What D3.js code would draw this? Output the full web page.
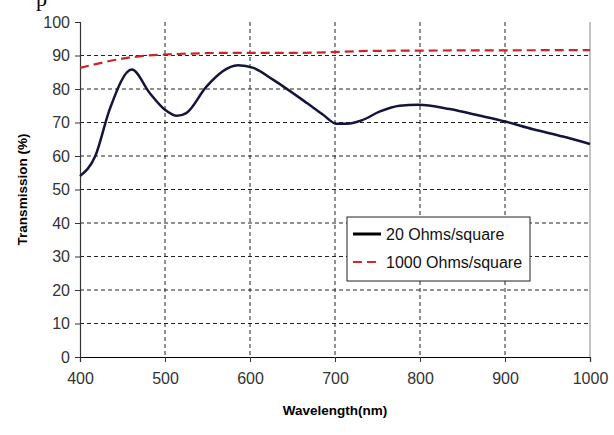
<!DOCTYPE html>
<html>
<head>
<meta charset="utf-8">
<script src="https://cdn.jsdelivr.net/npm/d3@7"></script>
<style>
  body { margin: 0; background: #fff; }
  svg { display: block; font-family: "Liberation Sans", Arial, sans-serif; }
</style>
</head>
<body>
<div id="chart"></div>
<script>
const wavelengths20 = [400, 418, 435, 461, 482, 500, 514, 525, 549, 586, 604, 627, 667, 686, 702, 714, 731, 753, 776, 798, 835, 871, 900, 933, 968, 1000];
const trans20 = [54, 60, 74, 85.8, 78.8, 73.8, 72, 72.8, 80.8, 87.1, 86.3, 82.8, 75.8, 72.3, 69.6, 69.6, 70.6, 73.3, 75, 75.3, 74, 72, 70.3, 68, 65.8, 63.6];

const wavelengths1000 = [400, 461, 500, 588, 659, 749, 1000];
const trans1000 = [86.3, 89.5, 90.3, 90.8, 90.8, 91.4, 91.6];

const xTicks = [400, 500, 600, 700, 800, 900, 1000];
const yTicks = [0, 10, 20, 30, 40, 50, 60, 70, 80, 90, 100];
const seriesNames = ["20 Ohms/square", "1000 Ohms/square"];

const W = 614, H = 435;
const plotLeft = 80, plotRight = 590, plotTop = 22, plotBottom = 357;

const svg = d3.select("#chart").append("svg")
  .attr("width", W)
  .attr("height", H);

const x = d3.scaleLinear().domain([400, 1000]).range([plotLeft, plotRight]);
const y = d3.scaleLinear().domain([0, 100]).range([plotBottom, plotTop]);

// stray glyph cut at the top of the picture
svg.append("text")
  .attr("x", 36)
  .attr("y", 6)
  .style("font-family", "'Liberation Serif', serif")
  .style("font-size", "22px")
  .text("p");

// grid
svg.append("g")
  .selectAll("line")
  .data(yTicks.filter(t => t > 0 && t < 100))
  .enter().append("line")
  .attr("x1", plotLeft).attr("x2", plotRight)
  .attr("y1", d => y(d)).attr("y2", d => y(d))
  .attr("stroke", "#222")
  .attr("stroke-dasharray", "4,3");

svg.append("g")
  .selectAll("line")
  .data(xTicks.filter(t => t > 400 && t < 1000))
  .enter().append("line")
  .attr("x1", d => x(d)).attr("x2", d => x(d))
  .attr("y1", plotTop).attr("y2", plotBottom)
  .attr("stroke", "#222")
  .attr("stroke-dasharray", "4,3");

// right border
svg.append("line")
  .attr("x1", plotRight).attr("x2", plotRight)
  .attr("y1", plotTop).attr("y2", plotBottom)
  .attr("stroke", "#888");

// axes
const yAxis = svg.append("g")
  .attr("transform", "translate(" + plotLeft + ",0)")
  .call(d3.axisLeft(y).tickValues(yTicks).tickSize(5).tickPadding(5));

const xAxis = svg.append("g")
  .attr("transform", "translate(0," + plotBottom + ")")
  .call(d3.axisBottom(x).tickValues(xTicks).tickFormat(d3.format("d")).tickSize(5).tickPadding(11));

[yAxis, xAxis].forEach(ax => {
  ax.select(".domain").attr("stroke", "#333").attr("stroke-width", 1.2);
  ax.selectAll(".tick line").attr("stroke", "#333");
  ax.selectAll("text")
    .attr("fill", "#333")
    .style("font-size", "16px")
    .style("font-family", "'Liberation Sans', Arial, sans-serif");
});
xAxis.select(".domain").attr("stroke", "#000");

// lines
const line = d3.line()
  .x(d => x(d[0]))
  .y(d => y(d[1]))
  .curve(d3.curveMonotoneX);

svg.append("path")
  .datum(wavelengths20.map((w, i) => [w, trans20[i]]))
  .attr("d", line)
  .attr("fill", "none")
  .attr("stroke", "#14143c")
  .attr("stroke-width", 2.5);

svg.append("path")
  .datum(wavelengths1000.map((w, i) => [w, trans1000[i]]))
  .attr("d", line)
  .attr("fill", "none")
  .attr("stroke", "#c8262a")
  .attr("stroke-width", 2.2)
  .attr("stroke-dasharray", "9,5");

// titles
svg.append("text")
  .attr("x", (plotLeft + plotRight) / 2)
  .attr("y", 415)
  .attr("text-anchor", "middle")
  .style("font-size", "13.5px")
  .style("font-weight", "bold")
  .text("Wavelength(nm)");

svg.append("text")
  .attr("transform", "translate(27," + (plotTop + plotBottom) / 2 + ") rotate(-90)")
  .attr("text-anchor", "middle")
  .style("font-size", "13.5px")
  .style("font-weight", "bold")
  .text("Transmission (%)");

// legend
const legend = svg.append("g").attr("transform", "translate(347,217)");
legend.append("rect")
  .attr("width", 183)
  .attr("height", 64)
  .attr("fill", "#fff")
  .attr("stroke", "#222");

const legendStyles = [
  { color: "#000", dash: null, width: 3 },
  { color: "#d8282c", dash: "9,5", width: 2.2 }
];

seriesNames.forEach((name, i) => {
  const ly = 17 + i * 28;
  legend.append("line")
    .attr("x1", 6).attr("x2", 34)
    .attr("y1", ly).attr("y2", ly)
    .attr("stroke", legendStyles[i].color)
    .attr("stroke-width", legendStyles[i].width)
    .attr("stroke-dasharray", legendStyles[i].dash);
  legend.append("text")
    .attr("x", 39)
    .attr("y", ly)
    .attr("dy", "0.36em")
    .style("font-size", "16px")
    .attr("fill", "#111")
    .text(name);
});
</script>
</body>
</html>
